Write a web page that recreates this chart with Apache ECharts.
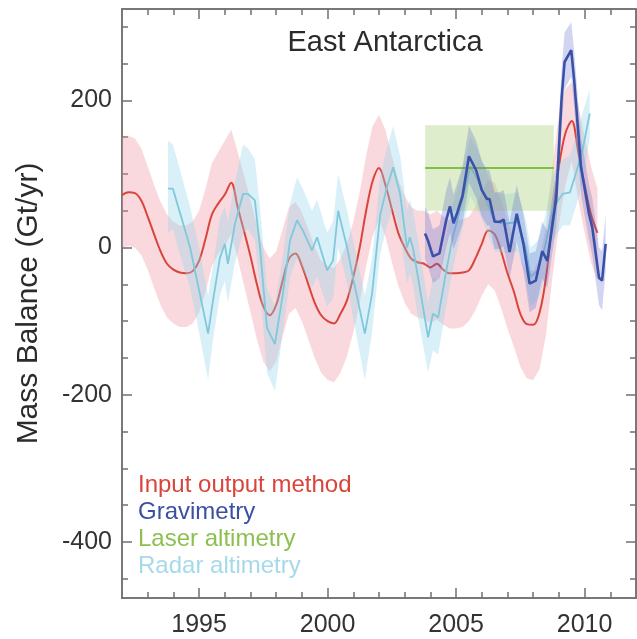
<!DOCTYPE html>
<html>
<head>
<meta charset="utf-8">
<script src="https://cdn.jsdelivr.net/npm/echarts@6/dist/echarts.min.js"></script>
<style>
html,body{margin:0;padding:0;background:#fff;}
#chart{width:637px;height:639px;}
</style>
</head>
<body>
<div id="chart"></div>
<script>
// ---------- DATA ----------
const xMajorTicks = [1995, 2000, 2005, 2010];
const xMinorTicks = [1993, 1994, 1996, 1997, 1998, 1999, 2001, 2002, 2003, 2004, 2006, 2007, 2008, 2009, 2011];
const yMajorTicks = [-400, -200, 0, 200];
const yMinorTicks = [-450, -350, -300, -250, -150, -100, -50, 50, 100, 150, 250, 300];

// Input output method (red)
const ioYears = [1992,1992.25,1992.5,1992.75,1993,1993.25,1993.5,1993.75,1994,1994.25,1994.5,1994.75,
  1995,1995.25,1995.5,1995.75,1996,1996.25,1996.5,1996.75,1997,1997.25,1997.5,1997.75,
  1998,1998.25,1998.5,1998.75,1999,1999.25,1999.5,1999.75,2000,2000.25,2000.5,2000.75,
  2001,2001.25,2001.5,2001.75,2002,2002.25,2002.5,2002.75,2003,2003.25,2003.5,2003.75,
  2004,2004.25,2004.5,2004.75,2005,2005.25,2005.5,2005.75,2006,2006.25,2006.5,2006.75,
  2007,2007.25,2007.5,2007.75,2008,2008.25,2008.5,2008.75,2009,2009.25,2009.5,2009.75,
  2010,2010.25,2010.5];
const ioValues = [71,75,74,64,42,18,-5,-22,-30,-34,-35,-32,
  -18,12,45,60,72,88,55,22,-12,-50,-80,-92,
  -78,-45,-15,-8,-25,-50,-75,-92,-100,-103,-90,-72,
  -40,0,50,90,108,85,52,20,0,-15,-20,-22,
  -27,-22,-30,-35,-35,-34,-31,-15,5,23,18,-5,
  -35,-60,-90,-104,-105,-88,-40,40,110,155,172,130,
  85,45,20];
const ioUpper = [150,152,148,135,110,85,62,45,35,30,30,35,
  50,80,115,130,145,160,130,98,65,30,0,-15,
  -5,25,55,62,48,25,0,-18,-25,-28,-15,5,
  35,75,125,165,180,160,125,92,70,55,50,50,
  45,50,42,37,37,38,42,55,75,92,88,65,
  38,12,-15,-30,-32,-15,30,110,180,215,225,195,
  150,110,80];
const ioLower = [0,2,0,-10,-30,-55,-78,-95,-103,-108,-108,-103,
  -88,-60,-25,-8,2,18,-15,-52,-88,-125,-155,-168,
  -155,-120,-90,-82,-100,-125,-150,-170,-180,-183,-170,-148,
  -115,-75,-25,15,38,15,-20,-52,-75,-90,-95,-97,
  -102,-98,-105,-110,-110,-108,-100,-85,-65,-50,-58,-82,
  -110,-135,-162,-178,-180,-165,-118,-40,30,85,118,65,
  20,-20,-45];

// Gravimetry (dark blue)
const gravYears = [2003.79,2003.9,2004.1,2004.35,2004.62,2004.76,2004.9,2005.05,2005.25,2005.5,2005.78,
  2006.0,2006.2,2006.3,2006.5,2006.7,2006.85,2007.08,2007.36,2007.62,2007.86,2008.1,2008.35,2008.55,
  2008.9,2009.1,2009.22,2009.48,2009.6,2009.86,2010.17,2010.3,2010.56,2010.68,2010.82];
const gravValues = [19,10,-12,-8,38,56,33,48,70,124,105,
  78,66,66,35,35,38,-6,46,5,-49,-45,-5,-18,
  68,200,252,268,225,109,46,27,-41,-45,5];
const gravUpper = [55,48,25,30,78,95,72,88,110,165,145,
  118,105,105,75,75,78,35,85,45,-8,-5,35,22,
  108,240,292,306,265,150,86,67,0,-5,45];
const gravLower = [-15,-25,-48,-42,2,20,-2,12,32,88,68,
  42,30,30,-2,-2,2,-42,8,-32,-88,-82,-42,-55,
  30,162,215,232,188,72,10,-10,-78,-85,-32];

// Laser altimetry (green)
const laserYears = [2003.8, 2008.8];
const laserValues = [108, 108];
const laserUpper = [166, 166];
const laserLower = [50, 50];

// Radar altimetry (light blue)
const radarYears = [1993.79,1993.98,1994.3,1994.65,1995.0,1995.35,1995.54,1995.81,1996.0,1996.12,1996.4,
  1996.71,1996.9,1997.17,1997.37,1997.64,1997.95,1998.26,1998.54,1998.81,1999.04,1999.39,1999.59,
  1999.98,2000.21,2000.41,2000.76,2000.99,2001.45,2001.73,2002.04,2002.27,2002.55,2002.82,2003.09,
  2003.2,2003.32,2003.52,2003.91,2004.1,2004.3,2004.57,2004.84,2005.1,2005.35,2005.55,2005.8,
  2006.1,2006.5,2006.9,2007.4,2007.7,2007.9,2008.2,2008.45,2008.77,2009.15,2009.43,2009.7,
  2009.94,2010.2];
const radarValues = [80,80,42,0,-58,-117,-72,-14,5,-22,33,
  73,73,64,0,-109,-131,-63,10,37,23,-4,14,
  -31,-18,50,0,-41,-117,-63,43,77,109,73,0,
  14,0,-41,-122,-90,-95,-41,10,45,80,110,95,
  70,35,32,35,0,-40,-30,0,54,73,75,105,
  136,182];
const radarUpper = [145,140,100,55,0,-65,-25,40,55,35,90,
  140,135,120,55,-55,-80,-10,60,95,80,50,65,
  20,35,100,50,10,-65,-15,95,130,165,125,50,
  65,50,10,-75,-40,-45,5,55,85,120,150,135,
  110,75,72,75,40,0,10,40,100,120,125,155,
  185,215];
const radarLower = [20,25,-15,-55,-115,-180,-125,-65,-45,-75,-20,
  20,25,10,-55,-170,-195,-115,-40,-15,-30,-55,-40,
  -80,-70,0,-50,-95,-180,-115,-10,25,55,20,-50,
  -35,-50,-95,-170,-140,-145,-90,-35,5,40,70,55,
  30,-5,-8,-5,-40,-80,-70,-40,10,30,30,60,
  90,150];

const legendItems = ['Input output method', 'Gravimetry', 'Laser altimetry', 'Radar altimetry'];
const legendColors = ['#d9453b', '#3b4fa3', '#8cc04f', '#a6d9ea'];

// ---------- CHART ----------
const FONT = '"Liberation Sans", Arial, Helvetica, sans-serif';
const AX = '#707070';
const chart = echarts.init(document.getElementById('chart'), null, {renderer: 'canvas'});

function pairs(xs, ys) { return xs.map((x, i) => [x, ys[i]]); }

function band(name, xs, lo, hi, color, z) {
  return {
    type: 'custom', name: name, z: z, silent: true, clip: true,
    xAxisIndex: 0, yAxisIndex: 0,
    data: xs.map((x, i) => [x, lo[i], hi[i]]),
    encode: {x: 0, y: [1, 2]},
    renderItem: function (params, api) {
      if (params.dataIndex !== 0) return null;
      const pts = [];
      for (let i = 0; i < xs.length; i++) pts.push(api.coord([xs[i], hi[i]]));
      for (let i = xs.length - 1; i >= 0; i--) pts.push(api.coord([xs[i], lo[i]]));
      return {type: 'polygon', shape: {points: pts}, style: {fill: color}};
    }
  };
}

function line(name, xs, ys, color, width, z, smooth) {
  return {
    type: 'line', name: name, z: z, xAxisIndex: 0, yAxisIndex: 0,
    data: pairs(xs, ys), showSymbol: false, symbol: 'none', smooth: smooth || false,
    lineStyle: {color: color, width: width}, silent: true
  };
}

function xAx(position, ticks, len, labels) {
  return {
    type: 'value', min: 1992, max: 2012, position: position,
    axisLine: {show: true, onZero: false, lineStyle: {color: AX, width: 1.5}},
    axisTick: {show: true, inside: true, length: len, customValues: ticks, lineStyle: {color: AX, width: 1.5}},
    axisLabel: labels ? {show: true, customValues: ticks, fontSize: 25, color: '#333', fontFamily: FONT, margin: 15,
      formatter: function (v) { return String(v); }} : {show: false},
    splitLine: {show: false}
  };
}
function yAx(position, ticks, len, labels) {
  return {
    type: 'value', min: -476, max: 324, position: position,
    axisLine: {show: true, onZero: false, lineStyle: {color: AX, width: 1.5}},
    axisTick: {show: true, inside: true, length: len, customValues: ticks, lineStyle: {color: AX, width: 1.5}},
    axisLabel: labels ? {show: true, customValues: ticks, fontSize: 25, color: '#333', fontFamily: FONT, margin: 10,
      formatter: function (v) { return String(v); }} : {show: false},
    splitLine: {show: false}
  };
}

const yMain = yAx('left', yMajorTicks, 10, true);
yMain.name = 'Mass Balance (Gt/yr)';
yMain.nameLocation = 'middle';
yMain.nameRotate = 90;
yMain.nameGap = 78;
yMain.nameTextStyle = {fontSize: 30, color: '#2b2b2b', fontFamily: FONT};

const graphics = [{
  type: 'text', x: 385, y: 43, z: 100,
  style: {text: 'East Antarctica', fontSize: 29, fill: '#2b2b2b', fontFamily: FONT, align: 'center', verticalAlign: 'middle'}
}];
const legendY = [485, 512, 539, 566];
legendItems.forEach((t, i) => graphics.push({
  type: 'text', x: 138, y: legendY[i], z: 100,
  style: {text: t, fontSize: 24, fill: legendColors[i], fontFamily: FONT, align: 'left', verticalAlign: 'middle'}
}));

chart.setOption({
  animation: false,
  backgroundColor: '#ffffff',
  grid: {left: 122, right: 1, top: 9, bottom: 41, containLabel: false},
  xAxis: [
    xAx('bottom', xMajorTicks, 10, true),
    xAx('bottom', xMinorTicks, 6, false),
    xAx('top', xMajorTicks, 10, false),
    xAx('top', xMinorTicks, 6, false)
  ],
  yAxis: [
    yMain,
    yAx('left', yMinorTicks, 6, false),
    yAx('right', yMajorTicks, 10, false),
    yAx('right', yMinorTicks, 6, false)
  ],
  graphic: graphics,
  series: [
    band('Input output method range', ioYears, ioLower, ioUpper, 'rgba(236,145,155,0.34)', 1),
    line('Input output method', ioYears, ioValues, '#d9453b', 2, 2, 0.35),
    band('Radar altimetry range', radarYears, radarLower, radarUpper, 'rgba(150,214,236,0.36)', 3),
    line('Radar altimetry', radarYears, radarValues, '#80c8db', 1.8, 4, false),
    band('Laser altimetry range', laserYears, laserLower, laserUpper, 'rgba(176,212,130,0.42)', 5),
    line('Laser altimetry', laserYears, laserValues, '#82bd44', 2, 6, false),
    band('Gravimetry range', gravYears, gravLower, gravUpper, 'rgba(95,105,205,0.28)', 7),
    line('Gravimetry', gravYears, gravValues, '#3a51a8', 2.6, 8, false)
  ]
});
</script>
</body>
</html>
